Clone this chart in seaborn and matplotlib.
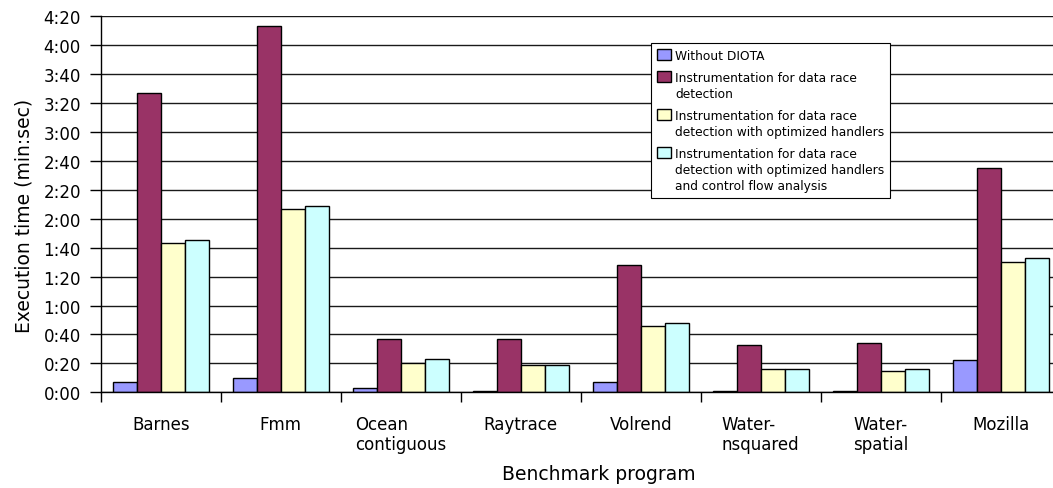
import matplotlib
matplotlib.use("Agg")
import matplotlib.pyplot as plt
from matplotlib.ticker import FixedLocator, FuncFormatter, MultipleLocator
import pandas as pd
import seaborn as sns

# Benchmarks and execution times (seconds) per configuration
benchmarks = ["Barnes", "Fmm", "Ocean\ncontiguous", "Raytrace", "Volrend",
              "Water-\nnsquared", "Water-\nspatial", "Mozilla"]
series_names = [
    "Without DIOTA",
    "Instrumentation for data race\ndetection",
    "Instrumentation for data race\ndetection with optimized handlers",
    "Instrumentation for data race\ndetection with optimized handlers\nand control flow analysis",
]
without_diota = [7, 10, 3, 1, 7, 1, 1, 22]
race_detection = [207, 253, 37, 37, 88, 33, 34, 155]
optimized_handlers = [103, 127, 20, 19, 46, 16, 15, 90]
control_flow = [105, 129, 23, 19, 48, 16, 16, 93]
colors = ["#9999FF", "#993366", "#FFFFCC", "#CCFFFF"]

rows = []
for name, vals in zip(series_names,
                      [without_diota, race_detection, optimized_handlers, control_flow]):
    for bench, v in zip(benchmarks, vals):
        rows.append({"benchmark": bench, "config": name, "seconds": v})
df = pd.DataFrame(rows)

sns.set_theme(style="white")
plt.rcParams["font.family"] = ["DejaVu Sans"]

fig = plt.figure(figsize=(10.53, 4.89), dpi=100)
W, H = 1053, 489
ax = fig.add_axes([100.7 / W, (H - 393.3) / H, 960 / W, 376 / H])

sns.barplot(data=df, x="benchmark", y="seconds", hue="config",
            order=benchmarks, hue_order=series_names, palette=colors,
            edgecolor="black", linewidth=1.0, saturation=1, width=0.8,
            legend=False, ax=ax)

ax.set_xlim(-0.5, len(benchmarks) - 0.5)
ax.set_ylim(0, 260)
ax.yaxis.set_major_locator(MultipleLocator(20))
ax.yaxis.set_major_formatter(FuncFormatter(lambda v, _: f"{int(v) // 60}:{int(v) % 60:02d}"))
ax.grid(axis="y", color="#1a1a1a", linewidth=1.0)
ax.grid(axis="x", visible=False)
ax.set_axisbelow(True)

for side in ("top", "right"):
    ax.spines[side].set_visible(False)
for side in ("left", "bottom"):
    ax.spines[side].set_color("black")
    ax.spines[side].set_linewidth(1.0)

ax.tick_params(axis="y", which="major", length=7.7, width=1.0, color="black",
               direction="out", pad=6.5, labelsize=12, left=True)
ax.xaxis.set_minor_locator(FixedLocator([i - 0.5 for i in range(len(benchmarks) + 1)]))
ax.tick_params(axis="x", which="minor", length=7.5, width=1.0, color="black",
               direction="out", bottom=True)
ax.tick_params(axis="x", which="major", length=0, pad=16, labelsize=12)
for lbl in ax.get_xticklabels():
    lbl.set_multialignment("left")
    lbl.set_color("black")
for lbl in ax.get_yticklabels():
    lbl.set_color("black")

ax.set_xlabel("Benchmark program", fontsize=13.5, color="black")
ax.set_ylabel("Execution time (min:sec)", fontsize=13.5, color="black")
ax.xaxis.set_label_coords((599 - 100.7) / 960, (393.3 - 465) / 376)
ax.yaxis.set_label_coords((34 - 100.7) / 960, (393.3 - 216) / 376)

leg = ax.legend(ax.containers, series_names, loc="upper left",
                bbox_to_anchor=(651 / W, 1 - 44.3 / H), bbox_transform=fig.transFigure,
                borderaxespad=0, fontsize=8.8, frameon=True, fancybox=False,
                framealpha=1, edgecolor="black", handlelength=1.2, handleheight=1.05,
                handletextpad=0.35, borderpad=0.45, labelspacing=0.72)
leg.get_frame().set_linewidth(0.8)
for txt in leg.get_texts():
    txt.set_linespacing(1.32)
    txt.set_color("black")
# align each swatch with the first line of its (possibly multi-line) label
for column in leg._legend_handle_box.get_children():
    for item in column.get_children():
        item.align = "top"

fig.savefig("out.png", dpi=100)
